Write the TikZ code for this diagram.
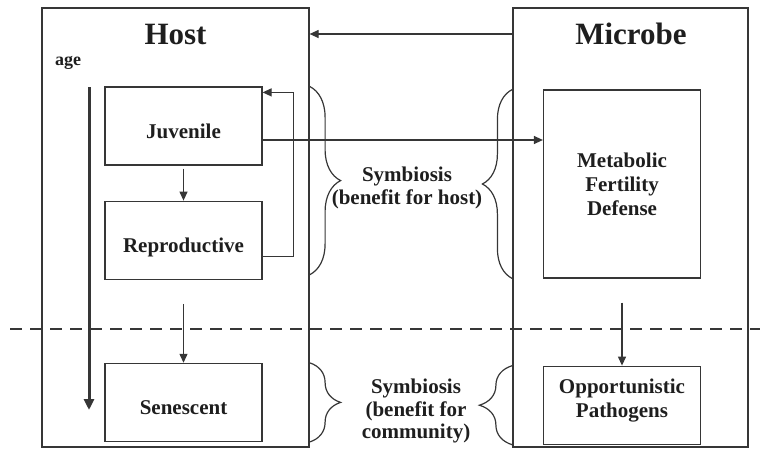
\documentclass[tikz,border=0pt]{standalone}
\usepackage{fontspec}
\setmainfont{Liberation Serif}
\usepackage{xcolor}
\usetikzlibrary{arrows.meta,positioning,decorations.pathreplacing,calc}
\definecolor{linegray}{HTML}{363636}
\definecolor{inkgray}{HTML}{1E1E1E}
\tikzset{
  panel/.style={rectangle,draw=linegray,line width=1.2pt,minimum width=#1,minimum height=439pt,inner sep=0pt},
  block/.style={rectangle,draw=linegray,line width=1.2pt,minimum width=157pt,minimum height=78pt,inner sep=0pt,align=center,text=inkgray,font=\bfseries\fontsize{21}{24}\selectfont},
  blockone/.style={block,text height=24pt,text depth=0pt},
  heading/.style={text=inkgray,font=\bfseries\fontsize{31}{34}\selectfont},
  note/.style={text=inkgray,align=center,font=\bfseries\fontsize{21}{22.5}\selectfont},
  link/.style={-{Triangle[length=9pt,width=8pt]},line width=1.2pt,linegray},
  agearrow/.style={-{Triangle[length=11pt,width=10pt]},line width=3pt,linegray},
  divider/.style={line width=2.6pt,linegray,dash pattern=on 12pt off 8pt},
  curly/.style={decorate,decoration={brace,amplitude=#1},line width=1.2pt,linegray},
}

\begin{document}
\begin{tikzpicture}[x=1pt,y=-1pt]
\useasboundingbox (0,0) rectangle (760,450);
% outer panels
\node[panel=267pt] (host) at (175.5,227.5) {};
\node[panel=235pt] (microbe) at (630.5,227.5) {};
\node[heading,anchor=base] (hosttitle) at (175.5,44) {Host};
\node[heading,anchor=base] (microbetitle) at (631,44) {Microbe};
\draw[link] (microbe.west |- hosttitle) -- (host.east |- hosttitle);
% host column
\node[text=inkgray,font=\bfseries\fontsize{18}{20}\selectfont] (age) at (68,63) {age};
\coordinate (agetop) at (89,87);
\coordinate (agebot) at (89,410);
\draw[agearrow] (agetop) -- (agebot);
\node[blockone] (juv) at (183.5,126) {Juvenile};
\node[blockone,below=35pt of juv] (repr) {Reproductive};
\node[blockone,below=83pt of repr] (sen) {Senescent};
\draw[link,shorten <=3pt] (juv) -- (repr);
\draw[link] ([yshift=-24pt]repr.south) -- (sen.north);
\draw[link] ([yshift=-16pt]repr.east) -- ++(31,0) |- ([yshift=-6pt]juv.north east);
% microbe column
\node[block,minimum height=188pt] (meta) at (622,184) {Metabolic\\Fertility\\Defense};
\node[block,below=87pt of meta,text depth=14pt] (opp) {Opportunistic\\Pathogens};
\draw[link] ([yshift=-24pt]meta.south) -- (opp.north);
\draw[link] ([yshift=-14pt]juv.east) coordinate (jm) -- (jm -| meta.west);
% symbiosis braces
\draw[curly=31pt] (host.east |- juv.north) -- ([yshift=5pt]host.east |- repr.south);
\draw[curly=30pt] (microbe.west |- meta.south) -- (microbe.west |- meta.north);
\node[note] (symhost) at (407,188) {Symbiosis\\(benefit for host)};
\draw[curly=31pt] (host.east |- sen.north) -- (host.east |- sen.south);
\draw[curly=33pt] (microbe.west |- opp.south) -- (microbe.west |- opp.north);
\node[note] (symcom) at (416,411) {Symbiosis\\(benefit for\\community)};
% age threshold
\coordinate (dashl) at (10,329);
\coordinate (dashr) at (760,329);
\draw[divider] (dashl) -- (dashr);
\end{tikzpicture}
\end{document}
